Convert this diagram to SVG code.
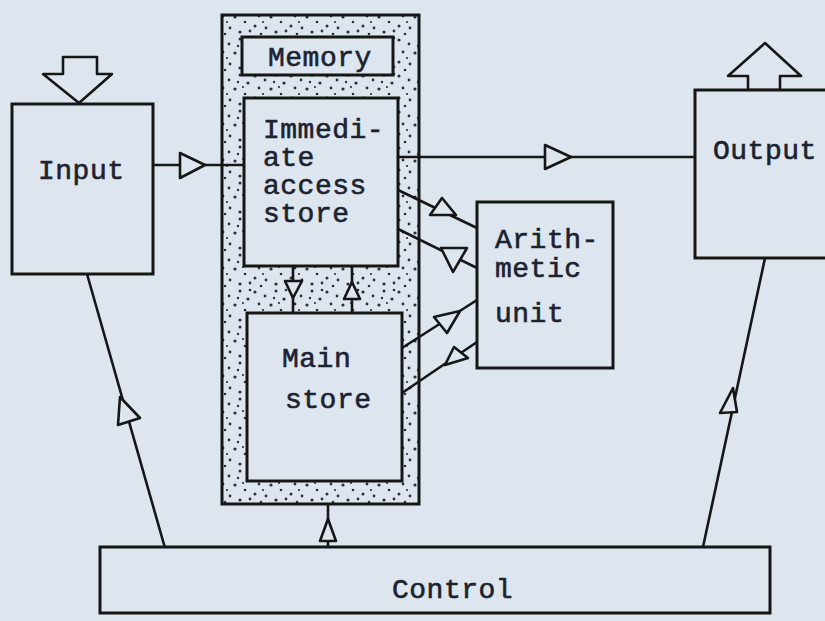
<svg xmlns="http://www.w3.org/2000/svg" width="825" height="621" viewBox="0 0 825 621">
<style>
  .box{fill:#dde6ef;stroke:#161616;stroke-width:3}
  .ln{fill:none;stroke:#161616;stroke-width:2.6;stroke-linecap:round}
  .hd{fill:#dde6ef;stroke:#161616;stroke-width:2.6;stroke-linejoin:round}
  .t{font-family:"Liberation Mono","Courier New",monospace;font-size:28px;letter-spacing:0.5px;fill:#1c2230;stroke:#1c2230;stroke-width:0.6}
</style>
<defs>
  <pattern id="dots" width="36" height="36" patternUnits="userSpaceOnUse">
    <g fill="#2a2f38">
      <circle cx="3" cy="4" r="1.6"/><circle cx="13" cy="8" r="1.4"/><circle cx="24" cy="3" r="1.5"/>
      <circle cx="32" cy="11" r="1.6"/><circle cx="7" cy="16" r="1.4"/><circle cx="19" cy="17" r="1.6"/>
      <circle cx="29" cy="22" r="1.3"/><circle cx="3" cy="26" r="1.5"/><circle cx="14" cy="28" r="1.4"/>
      <circle cx="24" cy="32" r="1.6"/><circle cx="34" cy="31" r="1.4"/><circle cx="9" cy="34" r="1.3"/>
      <circle cx="34" cy="2" r="1.3"/><circle cx="22" cy="10" r="1.2"/><circle cx="11" cy="22" r="1.1"/>
      <circle cx="27" cy="15" r="1.1"/>
    </g>
  </pattern>
</defs>
<rect width="825" height="621" fill="#dde6ef"/>

<g id="node-memory">
  <rect x="222" y="15" width="197" height="489" fill="url(#dots)" stroke="#161616" stroke-width="3"/>
  <rect class="box" x="242" y="37" width="151" height="38"/>
  <text class="t" x="268" y="66">Memory</text>
</g>

<g id="connectors">
  <polygon class="hd" points="63,57 97,57 97,74 112,74 79,103 43,74 63,74"/>
  <polygon class="hd" points="748,90 748,76 728,76 765,43 801,76 780,76 780,90"/>
  <line class="ln" x1="153" y1="165" x2="244" y2="165"/>
  <polygon class="hd" points="180,153 180,178 205,165"/>
  <line class="ln" x1="398" y1="157" x2="695" y2="157"/>
  <polygon class="hd" points="545,145 545,169 571,157"/>
  <line class="ln" x1="293" y1="266" x2="293" y2="313"/>
  <polygon class="hd" points="285,281 302,281 293,298"/>
  <line class="ln" x1="352" y1="266" x2="352" y2="313"/>
  <polygon class="hd" points="352,282 344,299 360,299"/>
  <line class="ln" x1="398" y1="190" x2="477" y2="228"/>
  <polygon class="hd" points="442,198 430,215 456,215"/>
  <line class="ln" x1="398" y1="229" x2="477" y2="268"/>
  <polygon class="hd" points="441,248 467,248 453,272"/>
  <line class="ln" x1="402" y1="348" x2="477" y2="300"/>
  <polygon class="hd" points="460,311 434,317 447,333"/>
  <line class="ln" x1="402" y1="393" x2="477" y2="342"/>
  <polygon class="hd" points="445,365 454,347 468,358"/>
  <line class="ln" x1="165" y1="548" x2="87" y2="274"/>
  <polygon class="hd" points="120,397 118,425 140,418"/>
  <line class="ln" x1="703" y1="547" x2="765" y2="258"/>
  <polygon class="hd" points="733,388 720,413 737,412"/>
  <line class="ln" x1="328" y1="547" x2="328" y2="504"/>
  <polygon class="hd" points="328,519 320,541 336,541"/>
</g>

<g id="node-input">
  <rect class="box" x="12" y="104" width="141" height="170"/>
  <text class="t" x="38" y="179">Input</text>
</g>

<g id="node-ias">
  <rect class="box" x="244" y="98" width="154" height="168"/>
  <text class="t" x="263" y="138">Immedi-</text>
  <text class="t" x="263" y="166">ate</text>
  <text class="t" x="263" y="194">access</text>
  <text class="t" x="263" y="222">store</text>
</g>

<g id="node-main">
  <rect class="box" x="247" y="313" width="155" height="168"/>
  <text class="t" x="282" y="367">Main</text>
  <text class="t" x="285" y="408">store</text>
</g>

<g id="node-arith">
  <rect class="box" x="477" y="202" width="136" height="166"/>
  <text class="t" x="495" y="248">Arith-</text>
  <text class="t" x="495" y="277">metic</text>
  <text class="t" x="495" y="322">unit</text>
</g>

<g id="node-output">
  <rect class="box" x="695" y="90" width="140" height="168"/>
  <text class="t" x="713" y="159">Output</text>
</g>

<g id="node-control">
  <rect class="box" x="100" y="547" width="670" height="66"/>
  <text class="t" x="392" y="598">Control</text>
</g>
</svg>
